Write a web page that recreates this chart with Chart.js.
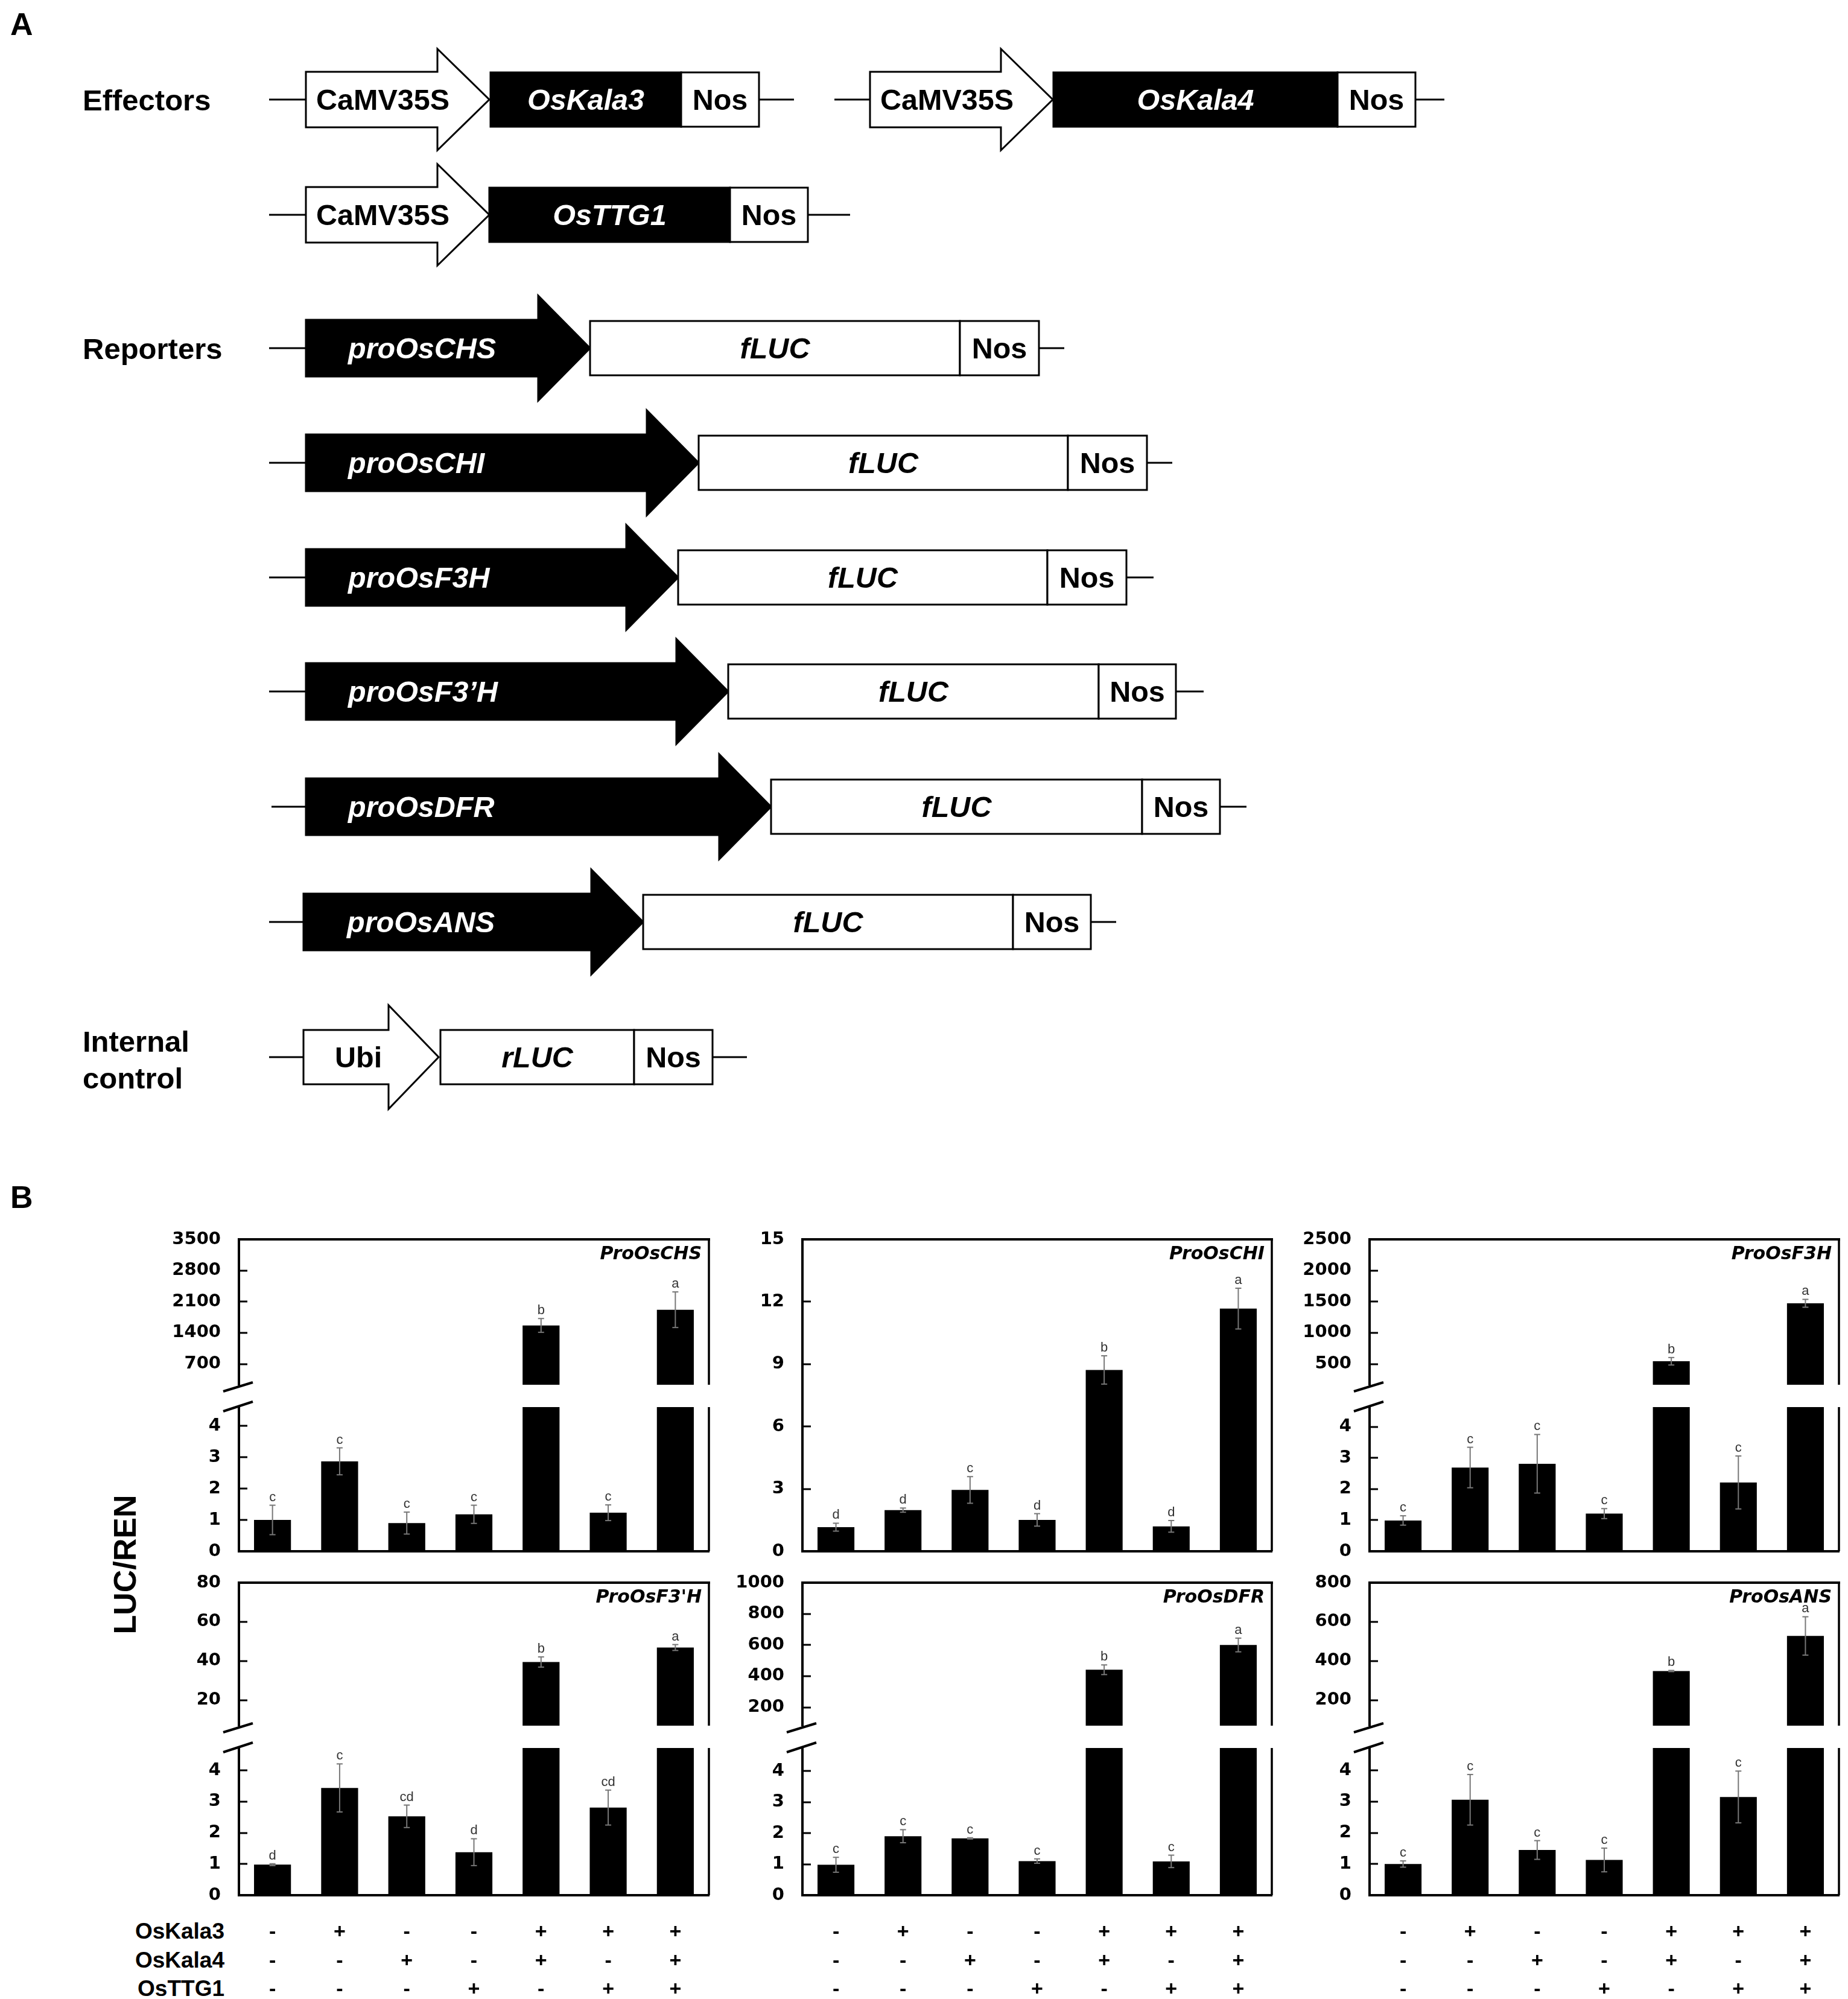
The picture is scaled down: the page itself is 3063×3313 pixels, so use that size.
<!DOCTYPE html>
<html>
<head>
<meta charset="utf-8">
<script src="https://cdn.jsdelivr.net/npm/chart.js@4.4.1/dist/chart.umd.min.js"></script>
<style>
  body { margin: 0; background: #fff; }
  #page { position: relative; width: 3063px; height: 3313px; overflow: hidden; background: #fff;
          font-family: "Liberation Sans", Arial, sans-serif; }
  .lbl { position: absolute; font-weight: bold; color: #000; white-space: nowrap; line-height: 1; }
  canvas { position: absolute; }
</style>
</head>
<body>
<div id="page">
  <svg id="schematic" width="3063" height="1900" style="position:absolute;left:0;top:0"></svg>
  <div class="lbl" style="left:17px;top:14px;font-size:52px">A</div>
  <div class="lbl" style="left:17px;top:1958px;font-size:52px">B</div>
  <div class="lbl" style="left:207px;top:2593px;font-size:52px;transform:translate(-50%,-50%) rotate(-90deg)">LUC/REN</div>
  <div id="rowLabels"></div>
</div>
<script>
// ---- panel B data ----
const effectors = ["OsKala3", "OsKala4", "OsTTG1"];
const kala3 = ["-", "+", "-", "-", "+", "+", "+"];
const kala4 = ["-", "-", "+", "-", "+", "-", "+"];
const ttg1  = ["-", "-", "-", "+", "-", "+", "+"];

const chsValues  = [1.0, 2.87, 0.90, 1.18, 1566, 1.23, 1919];
const chsErrors  = [0.47, 0.43, 0.35, 0.29, 155, 0.25, 400];
const chsLetters = ["c", "c", "c", "c", "b", "c", "a"];
const chsHighTicks = [700, 1400, 2100, 2800, 3500];
const chsLowTicks  = [0, 1, 2, 3, 4];

const chiValues  = [1.16, 1.98, 2.95, 1.51, 8.72, 1.20, 11.67];
const chiErrors  = [0.19, 0.10, 0.64, 0.30, 0.68, 0.28, 0.98];
const chiLetters = ["d", "d", "c", "d", "b", "d", "a"];
const chiTicks   = [0, 3, 6, 9, 12, 15];

const f3hValues  = [0.99, 2.69, 2.81, 1.21, 544, 2.21, 1474];
const f3hErrors  = [0.15, 0.65, 0.94, 0.16, 60, 0.85, 63];
const f3hLetters = ["c", "c", "c", "c", "b", "c", "a"];
const f3hHighTicks = [500, 1000, 1500, 2000, 2500];
const f3hLowTicks  = [0, 1, 2, 3, 4];

const f3phValues  = [0.98, 3.44, 2.53, 1.38, 39.5, 2.81, 46.9];
const f3phErrors  = [0.03, 0.77, 0.36, 0.43, 2.6, 0.56, 1.5];
const f3phLetters = ["d", "c", "cd", "d", "b", "cd", "a"];
const f3phHighTicks = [20, 40, 60, 80];
const f3phLowTicks  = [0, 1, 2, 3, 4];

const dfrValues  = [0.98, 1.90, 1.83, 1.10, 441, 1.09, 600];
const dfrErrors  = [0.24, 0.21, 0.02, 0.07, 31, 0.20, 44];
const dfrLetters = ["c", "c", "c", "c", "b", "c", "a"];
const dfrHighTicks = [200, 400, 600, 800, 1000];
const dfrLowTicks  = [0, 1, 2, 3, 4];

const ansValues  = [1.0, 3.06, 1.45, 1.13, 349, 3.15, 528];
const ansErrors  = [0.10, 0.81, 0.30, 0.38, 3, 0.83, 98];
const ansLetters = ["c", "c", "c", "c", "b", "c", "a"];
const ansHighTicks = [200, 400, 600, 800];
const ansLowTicks  = [0, 1, 2, 3, 4];

const comboLabels = kala3.map((v, i) => [v, kala4[i], ttg1[i]]);

// ---- panel A: construct drawing ----
const constructs = [
  { y: 165, from: 446, x: 507, tip: 811, head: 86, bh: 46, hh: 84, prom: "CaMV35S", dark: false, tx: 17,
    boxes: [[813, 1129, "OsKala3", true], [1129, 1258, "Nos", false]], to: 1316 },
  { y: 165, from: 1383, x: 1442, tip: 1745, head: 86, bh: 46, hh: 84, prom: "CaMV35S", dark: false, tx: 17,
    boxes: [[1746, 2217, "OsKala4", true], [2217, 2346, "Nos", false]], to: 2394 },
  { y: 356, from: 446, x: 507, tip: 811, head: 86, bh: 46, hh: 84, prom: "CaMV35S", dark: false, tx: 17,
    boxes: [[811, 1210, "OsTTG1", true], [1210, 1339, "Nos", false]], to: 1409 },
  { y: 577, from: 446, x: 507, tip: 978, head: 86, bh: 47, hh: 87, prom: "proOsCHS", dark: true, tx: 70,
    boxes: [[978, 1591, "fLUC", false], [1591, 1722, "Nos", false]], to: 1764 },
  { y: 767, from: 446, x: 507, tip: 1158, head: 86, bh: 47, hh: 87, prom: "proOsCHI", dark: true, tx: 70,
    boxes: [[1158, 1770, "fLUC", false], [1770, 1901, "Nos", false]], to: 1943 },
  { y: 957, from: 446, x: 507, tip: 1124, head: 86, bh: 47, hh: 87, prom: "proOsF3H", dark: true, tx: 70,
    boxes: [[1124, 1736, "fLUC", false], [1736, 1867, "Nos", false]], to: 1912 },
  { y: 1146, from: 446, x: 507, tip: 1207, head: 86, bh: 47, hh: 87, prom: "proOsF3\u2019H", dark: true, tx: 70,
    boxes: [[1207, 1821, "fLUC", false], [1821, 1949, "Nos", false]], to: 1995 },
  { y: 1337, from: 450, x: 507, tip: 1278, head: 86, bh: 47, hh: 87, prom: "proOsDFR", dark: true, tx: 70,
    boxes: [[1278, 1893, "fLUC", false], [1893, 2022, "Nos", false]], to: 2066 },
  { y: 1528, from: 446, x: 503, tip: 1066, head: 86, bh: 47, hh: 87, prom: "proOsANS", dark: true, tx: 72,
    boxes: [[1066, 1679, "fLUC", false], [1679, 1808, "Nos", false]], to: 1850 },
  { y: 1752, from: 446, x: 503, tip: 727, head: 83, bh: 45, hh: 86, prom: "Ubi", dark: false, tx: 52,
    boxes: [[730, 1051, "rLUC", false], [1051, 1181, "Nos", false]], to: 1238 }
];
const italicParts = ["OsKala3", "OsKala4", "OsTTG1", "fLUC", "rLUC"];

const svg = document.getElementById("schematic");
const NS = "http://www.w3.org/2000/svg";
function add(tag, attrs, text) {
  const e = document.createElementNS(NS, tag);
  Object.keys(attrs).forEach(k => e.setAttribute(k, attrs[k]));
  if (text !== undefined) e.textContent = text;
  svg.appendChild(e);
  return e;
}
function label(x, y, str, opts) {
  // y is the cap centre
  add("text", {
    x: x, y: y + 0.358 * opts.size, "font-family": "Liberation Sans, Arial, sans-serif",
    "font-size": opts.size, "font-weight": "bold", "font-style": opts.italic ? "italic" : "normal",
    fill: opts.color || "#000", "text-anchor": opts.anchor || "start"
  }, str);
}

[["Effectors", 137, 165], ["Reporters", 137, 577], ["Internal", 137, 1725], ["control", 137, 1786]]
  .forEach(([t, x, y]) => label(x, y, t, { size: 49 }));

constructs.forEach(c => {
  const y = c.y;
  add("line", { x1: c.from, y1: y, x2: c.x, y2: y, stroke: "#000", "stroke-width": 3 });
  const last = c.boxes[c.boxes.length - 1][1];
  add("line", { x1: last, y1: y, x2: c.to, y2: y, stroke: "#000", "stroke-width": 3 });
  const hs = c.tip - c.head;
  const pts = [[c.x, y - c.bh], [hs, y - c.bh], [hs, y - c.hh], [c.tip, y], [hs, y + c.hh], [hs, y + c.bh], [c.x, y + c.bh]];
  add("polygon", { points: pts.map(p => p.join(",")).join(" "), fill: c.dark ? "#000" : "#fff",
    stroke: "#000", "stroke-width": 3, "stroke-linejoin": "miter" });
  label(c.x + c.tx, y, c.prom, { size: 48.5, italic: c.dark, color: c.dark ? "#fff" : "#000" });
  c.boxes.forEach(([x1, x2, name, dark]) => {
    add("rect", { x: x1, y: y - 45, width: x2 - x1, height: 90, fill: dark ? "#000" : "#fff",
      stroke: "#000", "stroke-width": 3 });
    label((x1 + x2) / 2, y, name, { size: 48.5, italic: italicParts.includes(name),
      color: dark ? "#fff" : "#000", anchor: "middle" });
  });
});

// ---- panel B: charts ----
const page = document.getElementById("page");
const PAD_L = 140, PAD_R = 24, PAD_T = 44;

const rowLabels = document.getElementById("rowLabels");
[3200, 3248, 3295].forEach((cy, i) => {
  const d = document.createElement("div");
  d.className = "lbl";
  d.style.fontSize = "37px";
  d.style.right = (3063 - 372) + "px";
  d.style.top = (cy - 0.49 * 37) + "px";
  d.textContent = effectors[i];
  rowLabels.appendChild(d);
});

const panelPlugin = {
  id: "panel",
  afterDatasetsDraw(chart, args, o) {
    const { ctx, chartArea: a } = chart;
    const ys = chart.scales.y;
    const line = (x1, y1, x2, y2, w, col) => {
      ctx.beginPath();
      ctx.lineWidth = w;
      ctx.strokeStyle = col || "#000";
      ctx.moveTo(x1, y1);
      ctx.lineTo(x2, y2);
      ctx.stroke();
    };
    ctx.save();
    // inward tick marks
    ys.ticks.forEach(t => {
      const py = Math.round(ys.getPixelForValue(t.value));
      line(a.left, py, a.left + 14, py, 3);
    });
    // error bars and letters
    const ds = chart.data.datasets[0];
    const meta = chart.getDatasetMeta(0);
    ctx.font = "22px 'Liberation Sans', Arial, sans-serif";
    ctx.textAlign = "center";
    ctx.textBaseline = "alphabetic";
    meta.data.forEach((bar, i) => {
      const v = ds.data[i];
      if (v === null || v > ys.max) return;
      const e = ds.errors[i];
      const top = ys.getPixelForValue(v + e);
      const bot = ys.getPixelForValue(v - e);
      line(bar.x, top, bar.x, bot, 2, "#777");
      line(bar.x - 5, top, bar.x + 5, top, 2, "#777");
      line(bar.x - 5, bot, bar.x + 5, bot, 2, "#777");
      ctx.fillStyle = "#333";
      ctx.fillText(ds.letters[i], bar.x, top - 7);
    });
    // frame
    if (o.top) line(a.left - 2, a.top, a.right + 2, a.top, 4);
    line(a.right, a.top, a.right, a.bottom, 3.5);
    // axis break marks
    if (o.breakBelow) line(a.left - 26, a.bottom + 11, a.left + 23, a.bottom - 4, 4);
    if (o.breakAbove) line(a.left - 26, a.top + 7, a.left + 23, a.top - 9, 4);
    // panel title
    if (o.title) {
      ctx.font = "italic bold 30px 'DejaVu Sans', sans-serif";
      ctx.fillStyle = "#000";
      ctx.textAlign = "right";
      ctx.textBaseline = "top";
      ctx.fillText(o.title, a.right - 12, a.top + 10);
    }
    ctx.restore();
  }
};

function barChart(area, p) {
  const [l, t, r, b] = area;
  const cv = document.createElement("canvas");
  cv.width = r - l + PAD_L + PAD_R;
  cv.height = b - t + PAD_T + p.padB;
  cv.style.left = (l - PAD_L) + "px";
  cv.style.top = (t - PAD_T) + "px";
  page.appendChild(cv);
  return new Chart(cv, {
    type: "bar",
    data: {
      labels: comboLabels,
      datasets: [{
        data: p.data,
        errors: p.errors,
        letters: p.letters,
        backgroundColor: "#000",
        barPercentage: 0.55,
        categoryPercentage: 1,
        clip: 0
      }]
    },
    options: {
      responsive: false,
      animation: false,
      devicePixelRatio: 1,
      layout: { padding: { top: PAD_T, right: PAD_R, left: 0, bottom: 0 } },
      plugins: {
        legend: { display: false },
        tooltip: { enabled: false },
        panel: { top: p.top, title: p.title, breakBelow: p.breakBelow, breakAbove: p.breakAbove }
      },
      scales: {
        x: {
          grid: { display: false },
          border: { display: p.bottomLine, width: 4, color: "#000" },
          ticks: {
            display: !!p.showLabels, color: "#000", padding: 30, autoSkip: false, maxRotation: 0,
            font: { family: "'Liberation Sans', Arial, sans-serif", weight: "bold", size: 34, lineHeight: 1.4 }
          },
          afterFit: s => { s.height = p.padB; }
        },
        y: {
          min: p.min,
          max: p.max,
          grid: { display: false },
          border: { display: true, width: 4, color: "#000" },
          ticks: {
            color: "#000", padding: 22,
            font: { family: "'DejaVu Sans', sans-serif", weight: "bold", size: 29 },
            callback: v => String(v)
          },
          afterBuildTicks: s => { s.ticks = p.ticks.map(v => ({ value: v })); },
          afterFit: s => { s.width = PAD_L; }
        }
      }
    },
    plugins: [panelPlugin]
  });
}

// split one panel into an upper and a lower segment around the axis break
function brokenPanel(cols, rows, p) {
  const [l, r] = cols;
  const [t, mid1, mid2, b] = rows;
  const highData = p.values.map(v => (v > p.lowMax ? v : null));
  barChart([l, t, r, mid1], {
    data: highData, errors: p.errors, letters: p.letters, ticks: p.highTicks,
    min: p.highMin, max: p.highMax, top: true, title: p.title, breakBelow: true,
    bottomLine: false, padB: 44
  });
  barChart([l, mid2, r, b], {
    data: p.values, errors: p.errors, letters: p.letters, ticks: p.lowTicks,
    min: 0, max: p.lowMax, breakAbove: true, bottomLine: true,
    showLabels: p.showLabels, padB: p.showLabels ? 200 : 44
  });
}

const colLeft = [396, 1175], colMid = [1330, 2108], colRight = [2270, 3048];
const row1 = [2054, 2295, 2332, 2571], row2 = [2623, 2860, 2897, 3141];

brokenPanel(colLeft, row1, { title: "ProOsCHS", values: chsValues, errors: chsErrors, letters: chsLetters,
  highTicks: chsHighTicks, highMin: 233, highMax: 3500, lowTicks: chsLowTicks, lowMax: 4.6 });

barChart([colMid[0], row1[0], colMid[1], row1[3]], {
  data: chiValues, errors: chiErrors, letters: chiLetters, ticks: chiTicks,
  min: 0, max: 15, top: true, title: "ProOsCHI", bottomLine: true, padB: 44
});

brokenPanel(colRight, row1, { title: "ProOsF3H", values: f3hValues, errors: f3hErrors, letters: f3hLetters,
  highTicks: f3hHighTicks, highMin: 167, highMax: 2500, lowTicks: f3hLowTicks, lowMax: 4.63 });

brokenPanel(colLeft, row2, { title: "ProOsF3'H", values: f3phValues, errors: f3phErrors, letters: f3phLetters,
  highTicks: f3phHighTicks, highMin: 7, highMax: 80, lowTicks: f3phLowTicks, lowMax: 4.72, showLabels: true });

brokenPanel(colMid, row2, { title: "ProOsDFR", values: dfrValues, errors: dfrErrors, letters: dfrLetters,
  highTicks: dfrHighTicks, highMin: 82, highMax: 1000, lowTicks: dfrLowTicks, lowMax: 4.74, showLabels: true });

brokenPanel(colRight, row2, { title: "ProOsANS", values: ansValues, errors: ansErrors, letters: ansLetters,
  highTicks: ansHighTicks, highMin: 70, highMax: 800, lowTicks: ansLowTicks, lowMax: 4.72, showLabels: true });
</script>
</body>
</html>
